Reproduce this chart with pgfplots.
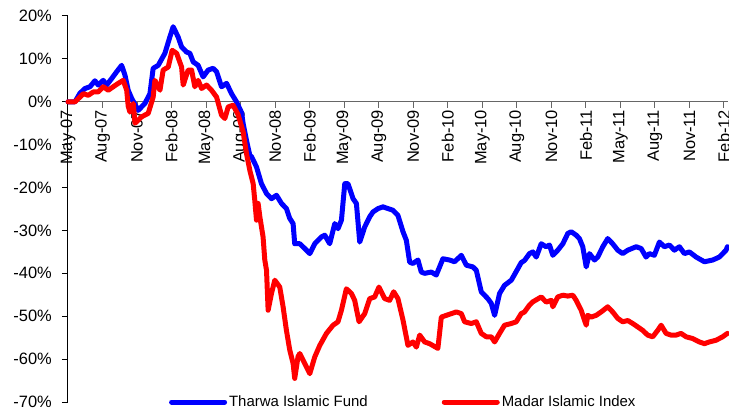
\documentclass[border=0pt]{standalone}
\usepackage{pgfplots}
\pgfplotsset{compat=1.18}
\usepackage{fontspec}
\setmainfont{Liberation Sans}
\definecolor{fundblue}{RGB}{0,0,255}
\definecolor{idxred}{RGB}{255,0,0}
\begin{document}
\begin{tikzpicture}
\begin{axis}[
  scale only axis,
  width=660bp, height=386bp,
  xmin=0, xmax=57.35,
  ymin=-70, ymax=20,
  axis x line=middle,
  axis y line=left,
  x axis line style={-, draw=black!60, line width=1.2bp},
  y axis line style={-, draw=black, line width=1bp},
  hide obscured x ticks=false,
  hide obscured y ticks=false,
  xtick={0,3,...,57},
  xticklabels={May-07,Aug-07,Nov-07,Feb-08,May-08,Aug-08,Nov-08,Feb-09,May-09,Aug-09,Nov-09,Feb-10,May-10,Aug-10,Nov-10,Feb-11,May-11,Aug-11,Nov-11,Feb-12},
  ytick={-70,-60,...,20},
  yticklabels={-70\%,-60\%,-50\%,-40\%,-30\%,-20\%,-10\%,0\%,10\%,20\%},
  tick align=outside,
  major tick length=6bp,
  x tick style={draw=black!60, line width=1bp},
  y tick style={draw=black, line width=1bp},
  xticklabel style={rotate=90, anchor=east, font=\fontsize{16.5}{18}\selectfont, inner sep=2bp},
  yticklabel style={font=\fontsize{16.5}{18}\selectfont, inner sep=2bp, xshift=-8bp},
  legend columns=2,
  legend style={at={(0.508,0)}, anchor=center, draw=none, fill=none,
    font=\fontsize{15}{17}\selectfont,
    /tikz/every even column/.append style={column sep=72bp}},
  legend image code/.code={\draw[#1, line width=5bp] (0bp,0bp) -- (53bp,0bp);},
  clip=false,
  every axis plot/.append style={line width=5bp, line join=round, line cap=round},
]
\addplot[fundblue] coordinates {
(0,0) (0.61,0) (1.04,2.0) (1.48,3.1) (1.91,3.5) (2.34,4.9) (2.63,3.9) (3.06,5.0) (3.36,3.9) (3.79,5.4)
(4.23,7.0) (4.66,8.5) (4.95,6.2) (5.23,2.7) (5.53,0.8) (6.10,-2.0) (6.68,-0.4) (7.12,1.9) (7.40,7.8) (7.84,8.5)
(8.42,11.3) (8.85,15.1) (9.14,17.5) (9.57,15.1) (9.87,12.8) (10.30,11.6) (10.59,11.3) (10.88,9.3) (11.31,8.5) (11.74,5.8)
(12.18,7.4) (12.61,7.8) (12.91,7.0) (13.34,3.5) (13.78,4.3) (14.21,1.9) (14.64,0.0) (15.08,-2.5) (15.22,-5.1) (15.51,-9.0)
(15.80,-12.5) (15.95,-12.8) (16.38,-15.2) (16.81,-19.1) (17.25,-21.4) (17.68,-22.6) (18.12,-21.8) (18.55,-23.7) (18.98,-24.9) (19.27,-27.2)
(19.56,-28.4) (19.70,-33.1) (20.14,-33.1) (20.57,-34.2) (21.01,-35.4) (21.44,-33.1) (22.02,-31.5) (22.31,-31.1) (22.74,-33.1) (23.18,-28.4)
(23.46,-29.6) (23.76,-27.6) (24.05,-19.1) (24.33,-19.1) (24.77,-22.6) (25.06,-23.7) (25.35,-32.7) (25.78,-29.2) (26.22,-26.8) (26.50,-25.7)
(26.94,-24.9) (27.37,-24.5) (27.80,-24.9) (28.24,-25.3) (28.67,-26.5) (29.11,-30.3) (29.40,-32.3) (29.69,-37.4) (29.97,-37.7) (30.41,-36.9)
(30.70,-39.7) (30.99,-40.0) (31.57,-39.7) (32.00,-40.4) (32.58,-36.6) (33.16,-36.9) (33.59,-37.3) (34.18,-35.8) (34.61,-38.1) (35.18,-38.5)
(35.48,-39.3) (35.91,-44.3) (36.48,-45.9) (36.78,-47.0) (37.07,-49.8) (37.50,-44.7) (37.93,-42.8) (38.52,-41.6) (39.09,-38.9) (39.38,-37.5)
(39.67,-37.0) (40.10,-35.4) (40.39,-35.0) (40.69,-36.2) (41.12,-33.1) (41.55,-33.8) (41.84,-33.4) (42.13,-35.8) (42.56,-34.6) (43.00,-33.1)
(43.43,-30.7) (43.72,-30.3) (44.16,-31.1) (44.44,-31.9) (44.73,-33.8) (45.03,-38.5) (45.31,-35.4) (45.75,-36.9) (46.03,-36.2) (46.47,-33.8)
(46.90,-31.9) (47.33,-33.1) (47.77,-34.6) (48.20,-35.4) (48.64,-34.6) (49.37,-33.8) (49.80,-34.2) (50.23,-36.2) (50.52,-35.4) (50.95,-35.8)
(51.39,-32.7) (51.82,-33.8) (52.26,-33.4) (52.69,-34.6) (53.13,-33.8) (53.56,-35.4) (53.99,-35.0) (54.58,-36.2) (55.30,-37.3) (56.02,-36.9)
(56.60,-36.2) (57.18,-34.6) (57.30,-33.8)
};
\addlegendentry{Tharwa Islamic Fund}
\addplot[idxred] coordinates {
(0,0) (0.61,0) (1.04,1.1) (1.33,1.9) (1.76,1.5) (2.20,2.3) (2.63,2.3) (3.06,3.5) (3.50,2.7) (3.93,3.5)
(4.37,4.3) (4.80,5.0) (5.10,2.7) (5.23,-1.0) (5.38,-2.4) (5.67,-0.4) (5.82,-5.0) (6.40,-3.5) (6.97,-2.7) (7.40,1.1)
(7.55,5.0) (7.99,2.7) (8.27,7.4) (8.71,8.1) (9.05,12.0) (9.44,11.3) (9.87,8.1) (10.01,3.9) (10.44,7.4) (10.74,7.4)
(11.02,3.5) (11.31,5.0) (11.61,3.1) (12.04,3.9) (12.47,2.7) (12.91,1.1) (13.34,-3.1) (13.63,-3.9) (13.92,-1.2) (14.35,-0.8)
(14.78,-3.0) (15.22,-7.0) (15.51,-12.1) (15.80,-16.0) (16.09,-19.1) (16.23,-23.0) (16.38,-27.6) (16.52,-23.7) (16.67,-26.8) (16.95,-31.5)
(17.10,-36.9) (17.25,-39.3) (17.39,-48.6) (17.68,-44.7) (17.97,-41.6) (18.40,-43.2) (18.69,-47.8) (18.98,-53.3) (19.27,-57.9) (19.56,-61.0)
(19.70,-64.5) (19.99,-59.4) (20.14,-58.7) (20.57,-61.0) (21.01,-63.4) (21.44,-59.5) (21.88,-56.8) (22.46,-54.0) (23.03,-52.1) (23.46,-51.3)
(23.76,-48.6) (24.19,-43.6) (24.63,-44.7) (24.91,-46.3) (25.29,-51.3) (25.78,-49.4) (26.22,-45.9) (26.65,-45.5) (27.02,-43.2) (27.52,-45.9)
(27.95,-46.3) (28.30,-44.3) (28.67,-45.9) (29.11,-50.9) (29.54,-56.8) (29.97,-56.0) (30.27,-57.2) (30.56,-54.4) (30.99,-56.0) (31.42,-56.4)
(32.14,-57.5) (32.44,-50.2) (32.87,-49.8) (33.31,-49.4) (33.74,-49.0) (34.18,-49.4) (34.46,-51.3) (35.04,-51.7) (35.48,-51.3) (35.91,-54.0)
(36.35,-54.8) (36.78,-54.8) (37.07,-56.0) (37.50,-54.0) (37.93,-52.1) (38.52,-51.7) (38.95,-51.3) (39.38,-49.4) (39.67,-49.0) (40.10,-47.4)
(40.36,-46.7) (41.12,-45.5) (41.55,-46.7) (41.99,-46.3) (42.13,-47.8) (42.56,-45.5) (43.00,-45.1) (43.43,-45.3) (43.87,-45.1) (44.16,-46.3)
(44.59,-48.6) (45.03,-52.1) (45.16,-49.8) (45.46,-50.2) (45.89,-49.8) (46.33,-49.0) (46.90,-47.8) (47.33,-49.0) (47.77,-50.5) (48.20,-51.3)
(48.64,-51.0) (49.07,-51.7) (49.51,-52.5) (49.94,-53.3) (50.37,-54.4) (50.81,-54.8) (51.24,-53.3) (51.54,-52.1) (51.97,-54.0) (52.40,-54.4)
(52.84,-54.4) (53.27,-54.0) (53.71,-54.8) (54.28,-55.2) (54.86,-56.0) (55.30,-56.4) (55.73,-56.0) (56.31,-55.6) (56.88,-54.8) (57.30,-54.0)
};
\addlegendentry{Madar Islamic Index}
\end{axis}
\pgfresetboundingbox
\path[use as bounding box] ([shift={(-68bp,-6bp)}]current axis.south west) rectangle ([shift={(1bp,16bp)}]current axis.north east);
\end{tikzpicture}
\end{document}
